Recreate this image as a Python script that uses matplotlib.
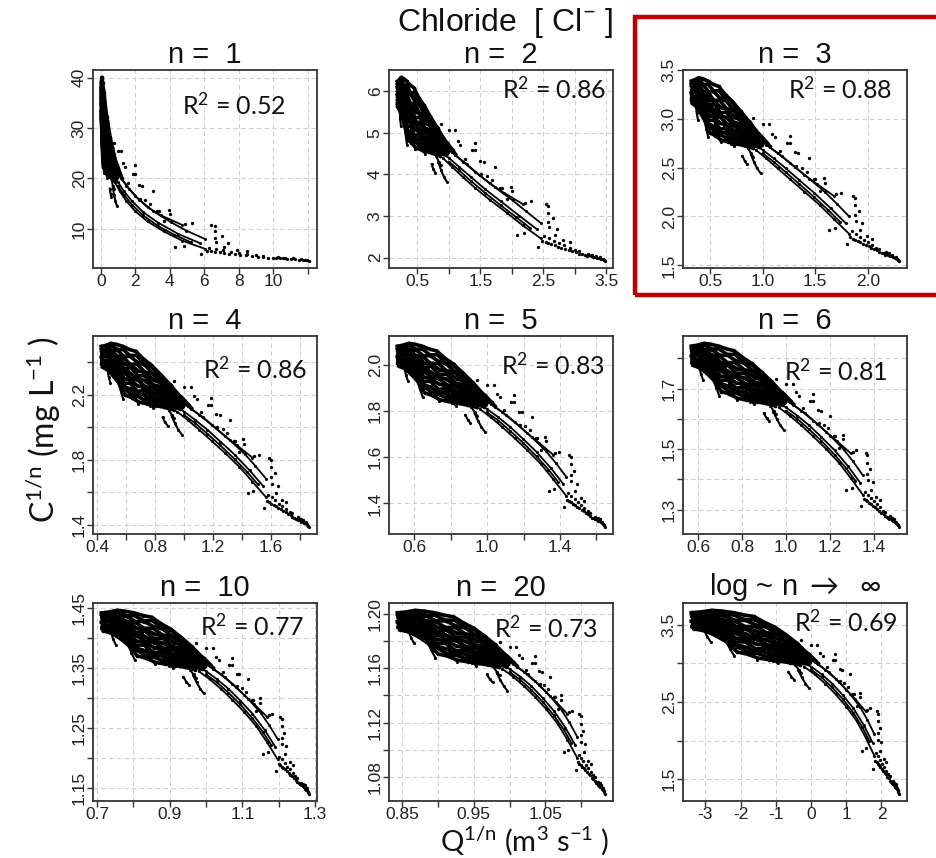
import numpy as np
import matplotlib.pyplot as plt
from matplotlib.patches import Rectangle


# -----------------------------
# Data: natural logs of discharge Q (m3/s) and chloride C (mg/L),
# read off the log panel; the other panels show Q^(1/n), C^(1/n)
# -----------------------------
ev1_lnq = [-3.40, -3.12, -2.82, -2.52, -2.20, -1.90, -1.62, -1.30, -1.02, -0.70, -0.42, -0.12, 0.12]
ev1_lnc = [3.66, 3.67, 3.69, 3.68, 3.66, 3.63, 3.61, 3.53, 3.47, 3.37, 3.27, 3.14, 3.04]
ev2_lnq = [-3.38, -3.06, -2.76, -2.46, -2.16, -1.86, -1.56, -1.26, -0.96, -0.66, -0.36, -0.06, 0.20]
ev2_lnc = [3.62, 3.64, 3.62, 3.62, 3.56, 3.56, 3.50, 3.47, 3.38, 3.33, 3.21, 3.12, 3.00]
ev3_lnq = [-3.36, -3.02, -2.72, -2.42, -2.12, -1.82, -1.52, -1.22, -0.92, -0.62, -0.32, -0.02]
ev3_lnc = [3.58, 3.60, 3.57, 3.56, 3.48, 3.47, 3.41, 3.39, 3.31, 3.27, 3.16, 3.09]
ev4_lnq = [-3.40, -3.08, -2.78, -2.48, -2.18, -1.88, -1.58, -1.28, -0.98, -0.68, -0.38, -0.08]
ev4_lnc = [3.55, 3.56, 3.52, 3.50, 3.41, 3.39, 3.33, 3.31, 3.24, 3.21, 3.12, 3.06]
ev5_lnq = [-3.34, -3.04, -2.74, -2.44, -2.14, -1.84, -1.54, -1.24, -0.94, -0.64, -0.34, -0.04]
ev5_lnc = [3.51, 3.52, 3.47, 3.43, 3.33, 3.31, 3.25, 3.23, 3.17, 3.15, 3.07, 3.03]
ev6_lnq = [-3.38, -3.10, -2.80, -2.50, -2.20, -1.90, -1.60, -1.30, -1.00, -0.70, -0.40, -0.10]
ev6_lnc = [3.48, 3.48, 3.42, 3.37, 3.25, 3.22, 3.16, 3.15, 3.10, 3.09, 3.02, 2.99]
ev7_lnq = [-3.32, -3.00, -2.70, -2.40, -2.10, -1.80, -1.50, -1.20, -0.90, -0.60, -0.30]
ev7_lnc = [3.45, 3.42, 3.36, 3.28, 3.15, 3.12, 3.07, 3.05, 3.03, 3.01, 2.98]
ev8_lnq = [-3.39, -3.09, -2.79, -2.49, -2.19, -1.89, -1.59, -1.29, -0.99, -0.69, -0.39, -0.09]
ev8_lnc = [3.64, 3.62, 3.67, 3.63, 3.63, 3.57, 3.57, 3.48, 3.45, 3.33, 3.26, 3.10]
ev9_lnq = [-3.37, -3.07, -2.77, -2.47, -2.17, -1.87, -1.57, -1.27, -0.97, -0.67, -0.37, -0.07]
ev9_lnc = [3.61, 3.58, 3.62, 3.56, 3.55, 3.48, 3.48, 3.40, 3.38, 3.27, 3.20, 3.07]
ev10_lnq = [-3.35, -3.05, -2.75, -2.45, -2.15, -1.85, -1.55, -1.25, -0.95, -0.65, -0.35, -0.05]
ev10_lnc = [3.56, 3.58, 3.53, 3.54, 3.43, 3.45, 3.36, 3.36, 3.26, 3.24, 3.13, 3.07]
ev11_lnq = [-3.33, -3.03, -2.73, -2.43, -2.13, -1.83, -1.53, -1.23, -0.93, -0.63, -0.33, -0.03]
ev11_lnc = [3.53, 3.50, 3.51, 3.44, 3.39, 3.33, 3.31, 3.24, 3.22, 3.15, 3.11, 3.02]
ev12_lnq = [-3.36, -3.06, -2.76, -2.46, -2.16, -1.86, -1.56, -1.26, -0.96, -0.66, -0.36, -0.06]
ev12_lnc = [3.50, 3.50, 3.44, 3.41, 3.28, 3.28, 3.19, 3.20, 3.13, 3.12, 3.04, 3.01]
ev13_lnq = [-3.31, -3.01, -2.71, -2.41, -2.11, -1.81, -1.51, -1.21, -0.91, -0.61, -0.31]
ev13_lnc = [3.47, 3.45, 3.40, 3.32, 3.22, 3.15, 3.13, 3.08, 3.07, 3.04, 3.01]

# short recession hooks hanging below the cluster
hk1_lnq = [-2.62, -2.45, -2.30, -2.18]
hk1_lnc = [3.46, 3.31, 3.19, 3.10]
hk2_lnq = [-1.95, -1.80, -1.66, -1.52]
hk2_lnc = [3.42, 3.24, 3.12, 3.05]
hk3_lnq = [-1.50, -1.36, -1.22, -1.08]
hk3_lnc = [3.36, 3.21, 3.10, 3.03]
hk4_lnq = [-0.92, -0.80, -0.70, -0.60]
hk4_lnc = [3.26, 3.13, 3.06, 3.02]
hk5_lnq = [-0.64, -0.56, -0.48]
hk5_lnc = [2.89, 2.83, 2.79]
hk6_lnq = [-0.36, -0.26, -0.16, -0.06]
hk6_lnc = [2.91, 2.82, 2.74, 2.68]
hk7_lnq = [-3.05, -2.95, -2.85]
hk7_lnc = [3.45, 3.35, 3.28]
hk8_lnq = [-1.25, -1.15, -1.05, -0.95]
hk8_lnc = [3.20, 3.10, 3.04, 3.00]
hk9_lnq = [-0.55, -0.45, -0.35, -0.28]
hk9_lnc = [3.08, 2.98, 2.92, 2.88]

# high-flow band
bd1_lnq = [-0.50, -0.20, 0.10, 0.40, 0.70, 1.00, 1.25, 1.55]
bd1_lnc = [3.22, 3.12, 3.02, 2.92, 2.80, 2.66, 2.54, 2.38]
bd2_lnq = [-0.30, 0.00, 0.30, 0.60, 0.90, 1.20, 1.50, 1.75]
bd2_lnc = [3.04, 2.96, 2.86, 2.74, 2.59, 2.42, 2.20, 1.97]
bd3_lnq = [-0.20, 0.10, 0.40, 0.70, 1.00, 1.30, 1.55, 1.80]
bd3_lnc = [2.96, 2.86, 2.74, 2.60, 2.44, 2.25, 2.04, 1.80]
bd4_lnq = [0.00, 0.30, 0.60, 0.90, 1.20, 1.45, 1.65]
bd4_lnc = [2.92, 2.82, 2.69, 2.54, 2.36, 2.18, 2.00]
bd5_lnq = [-0.10, 0.20, 0.50, 0.80, 1.10, 1.40, 1.60, 1.80]
bd5_lnc = [3.08, 2.99, 2.89, 2.76, 2.61, 2.43, 2.27, 2.08]

# sparse points at the highest flows
tail_lnq = [1.82, 1.86, 1.89, 1.93, 1.97, 2.01, 2.05, 2.09, 2.13, 2.17, 2.21, 2.24, 2.27, 2.30,
            2.32, 2.34, 2.36, 2.38, 2.40, 2.42, 2.44, 2.46, 2.47, 2.48, 2.49, 2.45, 2.41, 2.37,
            2.33, 1.84, 1.90, 1.96, 2.02, 2.08, 2.14, 2.20]
tail_lnc = [1.74, 1.72, 1.70, 1.68, 1.66, 1.63, 1.61, 1.58, 1.56, 1.53, 1.51, 1.48, 1.46, 1.45,
            1.43, 1.44, 1.42, 1.40, 1.41, 1.38, 1.37, 1.36, 1.34, 1.33, 1.31, 1.39, 1.43, 1.45,
            1.47, 1.84, 1.80, 1.75, 1.70, 1.66, 1.61, 1.56]

# scattered points off the main band
out_lnq = [0.00, 0.18, 0.26, 0.34, 0.62, 0.69, 0.69, 0.81, 0.88, 0.83, 1.10, 1.19, 1.22, 1.39,
           1.38, 1.59, 1.67, 1.86, 1.89, 1.89, 1.89, 1.90, 1.95, 2.00, 1.97, 2.07, 1.57, 1.46,
           1.76, 2.14, 2.24, -0.28, 0.45, 1.05, 1.30, 0.95]
out_lnc = [3.24, 3.24, 3.14, 3.10, 3.04, 3.12, 3.04, 2.93, 2.92, 2.77, 2.86, 2.60, 2.60, 2.56,
           2.62, 2.40, 2.42, 2.38, 2.35, 2.25, 2.10, 2.01, 2.16, 1.98, 1.87, 1.76, 1.90, 1.87,
           1.63, 1.72, 1.54, 3.30, 2.95, 2.70, 2.45, 2.75]

cluster = [
    (ev1_lnq, ev1_lnc), (ev2_lnq, ev2_lnc), (ev3_lnq, ev3_lnc), (ev4_lnq, ev4_lnc),
    (ev5_lnq, ev5_lnc), (ev6_lnq, ev6_lnc), (ev7_lnq, ev7_lnc), (ev8_lnq, ev8_lnc),
    (ev9_lnq, ev9_lnc), (ev10_lnq, ev10_lnc), (ev11_lnq, ev11_lnc), (ev12_lnq, ev12_lnc),
    (ev13_lnq, ev13_lnc),
]
hooks = [
    (hk1_lnq, hk1_lnc), (hk2_lnq, hk2_lnc), (hk3_lnq, hk3_lnc), (hk4_lnq, hk4_lnc),
    (hk5_lnq, hk5_lnc), (hk6_lnq, hk6_lnc), (hk7_lnq, hk7_lnc), (hk8_lnq, hk8_lnc),
    (hk9_lnq, hk9_lnc),
]
band = [(bd1_lnq, bd1_lnc), (bd2_lnq, bd2_lnc), (bd3_lnq, bd3_lnc),
        (bd4_lnq, bd4_lnc), (bd5_lnq, bd5_lnc)]
points = [(tail_lnq, tail_lnc), (out_lnq, out_lnc)]

# -----------------------------
# Panels
# -----------------------------
powers = [1, 2, 3, 4, 5, 6, 10, 20, None]
titles = ["n =  1", "n =  2", "n =  3", "n =  4", "n =  5", "n =  6",
          "n =  10", "n =  20", r"log ~ n $\rightarrow$  $\infty$"]
r2_values = ["0.52", "0.86", "0.88", "0.86", "0.83", "0.81", "0.77", "0.73", "0.69"]

x_ticks = [
    [0, 2, 4, 6, 8, 10, 12],
    [0.5, 1.0, 1.5, 2.0, 2.5, 3.0, 3.5],
    [0.5, 1.0, 1.5, 2.0],
    [0.4, 0.6, 0.8, 1.0, 1.2, 1.4, 1.6, 1.8],
    [0.6, 0.8, 1.0, 1.2, 1.4, 1.6],
    [0.6, 0.8, 1.0, 1.2, 1.4],
    [0.7, 0.8, 0.9, 1.0, 1.1, 1.2, 1.3],
    [0.85, 0.90, 0.95, 1.00, 1.05, 1.10],
    [-3, -2, -1, 0, 1, 2],
]
x_labels = [
    ["0", "2", "4", "6", "8", "10", ""],
    ["0.5", "", "1.5", "", "2.5", "", "3.5"],
    ["0.5", "1.0", "1.5", "2.0"],
    ["0.4", "", "0.8", "", "1.2", "", "1.6", ""],
    ["0.6", "", "1.0", "", "1.4", ""],
    ["0.6", "0.8", "1.0", "1.2", "1.4"],
    ["0.7", "", "0.9", "", "1.1", "", "1.3"],
    ["0.85", "", "0.95", "", "1.05", ""],
    ["-3", "-2", "-1", "0", "1", "2"],
]
y_ticks = [
    [10, 20, 30, 40],
    [2, 3, 4, 5, 6],
    [1.5, 2.0, 2.5, 3.0, 3.5],
    [1.4, 1.6, 1.8, 2.0, 2.2, 2.4],
    [1.4, 1.6, 1.8, 2.0],
    [1.3, 1.4, 1.5, 1.6, 1.7, 1.8],
    [1.15, 1.20, 1.25, 1.30, 1.35, 1.40, 1.45],
    [1.08, 1.10, 1.12, 1.14, 1.16, 1.18, 1.20],
    [1.5, 2.0, 2.5, 3.0, 3.5],
]
y_labels = [
    ["10", "20", "30", "40"],
    ["2", "3", "4", "5", "6"],
    ["1.5", "2.0", "2.5", "3.0", "3.5"],
    ["1.4", "", "1.8", "", "2.2", ""],
    ["1.4", "1.6", "1.8", "2.0"],
    ["1.3", "", "1.5", "", "1.7", ""],
    ["1.15", "", "1.25", "", "1.35", "", "1.45"],
    ["1.08", "", "1.12", "", "1.16", "", "1.20"],
    ["1.5", "", "2.5", "", "3.5"],
]
r2_pos = [(0.86, 0.82), (0.97, 0.90), (0.935, 0.90), (0.955, 0.83), (0.965, 0.85),
          (0.915, 0.82), (0.945, 0.88), (0.935, 0.87), (0.96, 0.90)]


def transform(values, n):
    if n is None:
        return np.array(values)
    return np.exp(np.array(values)) ** (1.0 / n)


# -----------------------------
# Figure
# -----------------------------
plt.rcParams["font.family"] = ["Liberation Sans", "DejaVu Sans"]
plt.rcParams["mathtext.fontset"] = "custom"
plt.rcParams["mathtext.rm"] = "Lato"
plt.rcParams["mathtext.it"] = "Lato:italic"
plt.rcParams["mathtext.bf"] = "Lato:bold"

W, H = 936, 858
fig = plt.figure(figsize=(W / 100, H / 100), dpi=100)

lefts = [93, 389, 683]
tops = [70, 336, 603]
ax_w, ax_h = 224, 198

for i in range(9):
    row, col = divmod(i, 3)
    left = lefts[col] / W
    bottom = 1 - (tops[row] + ax_h) / H
    ax = fig.add_axes([left, bottom, ax_w / W, ax_h / H])
    n = powers[i]

    for lnq, lnc in cluster:
        ax.plot(transform(lnq, n), transform(lnc, n), "-o", color="black",
                lw=2.6, ms=2.6, mew=0)
    for lnq, lnc in hooks:
        ax.plot(transform(lnq, n), transform(lnc, n), "-o", color="black",
                lw=1.5, ms=2.2, mew=0)
    for lnq, lnc in band:
        ax.plot(transform(lnq, n), transform(lnc, n), "-o", color="black",
                lw=1.3, ms=2.2, mew=0)
    for lnq, lnc in points:
        ax.plot(transform(lnq, n), transform(lnc, n), "o", color="black",
                ms=2.4, mew=0)

    ax.margins(x=0.04, y=0.04)
    ax.set_xticks(x_ticks[i])
    ax.set_xticklabels(x_labels[i])
    ax.set_yticks(y_ticks[i])
    ax.set_yticklabels(y_labels[i])
    ax.grid(True, color="#cfcfcf", ls=(0, (4, 3)), lw=0.8)
    ax.set_axisbelow(True)

    ax.tick_params(axis="both", direction="out", length=4, width=1,
                   color="#333333", labelsize=12.5, labelcolor="#222222", pad=0.5)
    ax.tick_params(axis="y", labelrotation=90)
    for t in ax.get_yticklabels():
        t.set_va("center")
    for s in ax.spines.values():
        s.set_color("#333333")
        s.set_linewidth(1.3)

    ax.set_title(titles[i], fontsize=21, pad=5, color="#111111")
    ax.text(r2_pos[i][0], r2_pos[i][1], r"R$^{\mathrm{2}}$ = " + r2_values[i],
            transform=ax.transAxes, ha="right", va="center",
            fontsize=18, family=["Lato", "DejaVu Sans"], color="#111111")

fig.text(505 / W, 1 - 23 / H, r"Chloride  [ Cl$^{\mathrm{-}}$ ]", ha="center", va="center",
         fontsize=23, color="#111111")
fig.text(44 / W, 1 - 430 / H, r"C$^{\mathrm{1/n}}$ (mg L$^{\mathrm{-1}}$ )", rotation=90,
         ha="center", va="center", fontsize=23, family="Lato", color="#111111")
fig.text(525 / W, 1 - 851 / H, r"Q$^{\mathrm{1/n}}$ (m$^{\mathrm{3}}$ s$^{\mathrm{-1}}$ )",
         ha="center", va="baseline", fontsize=21, family="Lato", color="#111111")

# red frame around the n = 3 panel
fig.patches.append(Rectangle((635 / W, 1 - 295 / H), (W - 635 + 10) / W, 278 / H,
                             transform=fig.transFigure, fill=False,
                             edgecolor="#c00000", lw=3.2, clip_on=False))

fig.savefig("out.png", dpi=100)
